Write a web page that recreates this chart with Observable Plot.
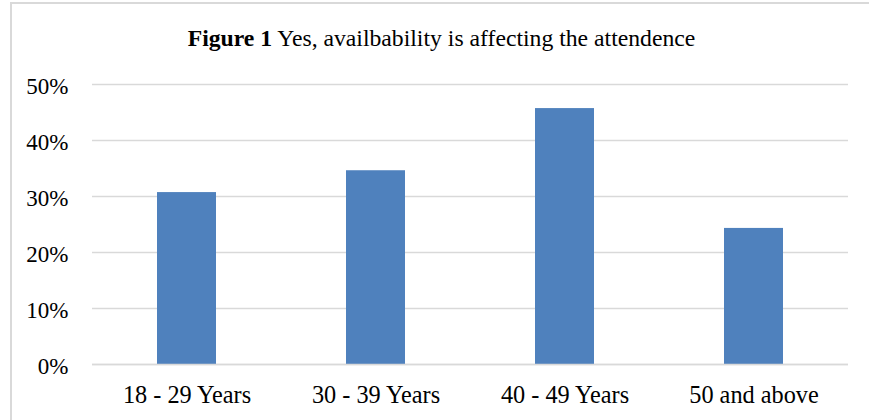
<!DOCTYPE html>
<html>
<head>
<meta charset="utf-8">
<script src="https://cdn.jsdelivr.net/npm/d3@7"></script>
<script src="https://cdn.jsdelivr.net/npm/@observablehq/plot@0.6"></script>
<style>
  html, body { margin: 0; padding: 0; background: #fff; }
  body { width: 869px; height: 420px; position: relative; overflow: hidden; font-family: "Liberation Serif", "Times New Roman", serif; }
  #frame { position: absolute; left: 10px; top: 2px; width: 900px; height: 460px; border-left: 2px solid #d9d9d9; border-top: 2px solid #d9d9d9; }
  #title { position: absolute; left: 0; top: 26px; width: 883px; text-align: center; font-size: 23.7px; line-height: 24px; color: #000; white-space: nowrap; }
  #chart { position: absolute; left: 0; top: 60px; }
</style>
</head>
<body>
<div id="frame"></div>
<div id="title"><b>Figure 1</b> Yes, availbability is affecting the attendence</div>
<div id="chart"></div>
<script>
const categories = ["18 - 29 Years", "30 - 39 Years", "40 - 49 Years", "50 and above"];
const values = [0.307, 0.346, 0.457, 0.243];
const yTicks = [0, 0.1, 0.2, 0.3, 0.4, 0.5];

const data = categories.map((c, i) => ({category: c, value: values[i]}));

const plot = Plot.plot({
  width: 869,
  height: 360,
  marginTop: 24,
  marginBottom: 56,
  marginLeft: 92,
  marginRight: 21,
  style: {fontFamily: "'Liberation Serif', 'Times New Roman', serif", fontSize: "23px", color: "#000", background: "transparent"},
  x: {domain: categories, paddingInner: 0.69, paddingOuter: 0.345, label: null},
  y: {domain: [0, 0.5], label: null},
  marks: [
    Plot.gridY(yTicks, {stroke: "#d9d9d9", strokeOpacity: 1, strokeWidth: 1.5}),
    Plot.barY(data, {x: "category", y: "value", fill: "#4F81BD"}),
    Plot.ruleY([0], {stroke: "#d9d9d9", strokeWidth: 1.5}),
    Plot.axisY(yTicks, {tickSize: 0, tickPadding: 24, tickFormat: d => Math.round(d * 100) + "%", dy: 2, fill: "#000", fontSize: 23}),
    Plot.axisX({tickSize: 0, tickPadding: 21, fill: "#000", fontSize: 24.3})
  ]
});
document.getElementById("chart").appendChild(plot);
</script>
</body>
</html>
